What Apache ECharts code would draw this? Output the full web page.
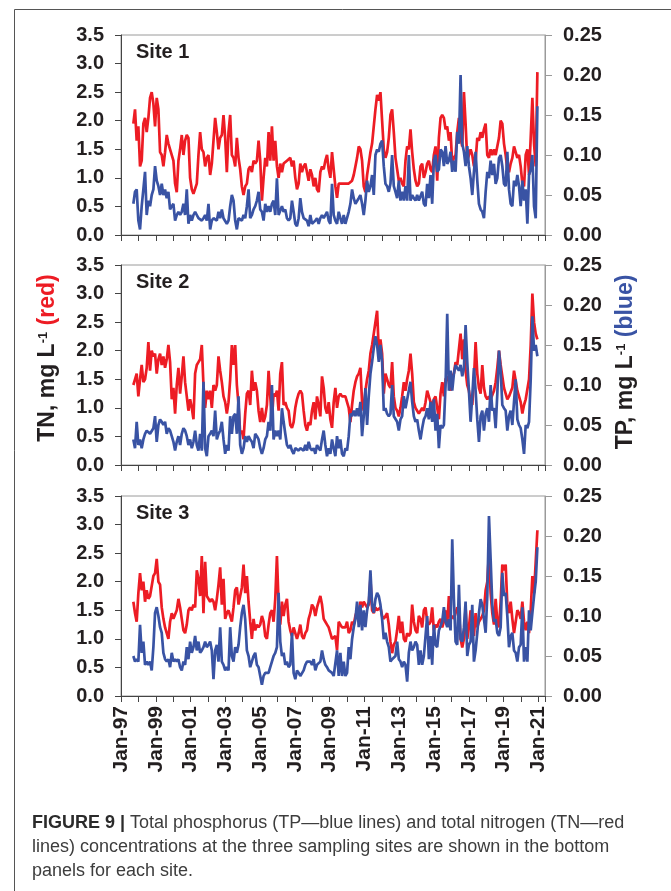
<!DOCTYPE html>
<html>
<head>
<meta charset="utf-8">
<script src="https://cdn.jsdelivr.net/npm/echarts@6/dist/echarts.min.js"></script>
<style>
html,body{margin:0;padding:0;background:#fff;}
#chart{width:671px;height:891px;}
</style>
</head>
<body>
<div id="chart"></div>
<script>
// sampling grid (decimal years): first sample and spacing
const T0 = 1997.71;
const STEP = 0.096;

const siteNames = ['Site 1', 'Site 2', 'Site 3'];

// TN, mg/L (red)
const tnSite1 = [1.95,2.2,1.65,1.9,1.2,1.3,1.95,2.05,1.8,2.05,
2.4,2.5,2.3,1.9,2.4,2.2,1.45,1.4,1.2,1.45,
1.75,1.6,1.5,1.5,1.3,0.9,0.75,1.3,1.5,1.75,
1.4,1.65,1.75,1.7,1.0,0.8,0.72,0.7,0.9,1.4,
1.8,1.5,1.45,1.2,1.35,1.4,1.05,1.25,1.65,2.05,
1.8,1.5,1.7,1.75,2.1,1.7,1.1,1.8,2.1,1.4,
1.35,1.2,1.7,1.35,1.15,0.85,0.7,0.85,0.9,1.15,
1.2,1.1,1.3,1.25,1.3,1.65,1.3,0.6,1.0,1.35,
1.2,1.8,1.3,1.9,1.3,1.65,1.2,1.0,1.25,1.1,
1.25,1.25,1.3,1.3,1.35,1.2,1.3,1.0,0.8,0.9,
1.25,1.1,1.2,1.25,1.1,0.95,1.15,1.05,0.85,1.0,
0.8,0.75,1.1,1.2,1.15,1.3,1.4,1.15,1.0,1.45,
1.15,0.85,0.65,0.9,0.9,0.9,0.9,0.9,0.9,0.9,
0.9,0.95,1.05,1.2,1.35,1.55,1.5,1.3,0.85,0.75,
1.05,1.25,1.45,1.6,1.9,2.2,2.45,2.35,2.5,2.0,
1.5,1.35,1.45,1.7,2.1,2.2,1.8,1.35,1.15,0.95,
1.0,0.9,0.85,1.3,1.55,1.5,1.85,1.45,1.15,0.95,
0.85,0.9,1.2,1.25,1.0,1.1,1.25,1.3,1.15,1.1,
1.4,1.55,0.95,1.7,2.05,2.1,2.05,1.85,1.9,1.65,
1.8,1.25,1.35,1.4,1.8,2.05,1.7,1.55,2.5,1.95,
1.3,1.3,1.5,1.4,1.2,1.3,1.7,1.65,1.8,1.7,
1.85,1.95,1.4,1.35,1.5,1.4,1.5,1.4,1.4,1.7,
2.0,1.95,1.6,1.4,1.15,1.1,1.25,1.35,1.55,1.45,
1.35,1.4,1.2,0.9,0.85,1.4,1.5,1.05,1.7,2.4,
1.6,1.2,2.85];

const tnSite2 = [1.4,1.5,1.6,1.2,1.5,1.75,1.45,1.5,1.7,2.15,
1.65,2.0,1.9,1.95,1.6,1.85,1.95,1.75,1.9,1.7,
1.85,2.1,1.8,1.15,1.35,0.9,1.4,1.7,1.25,1.55,
1.9,1.45,1.45,0.95,1.15,1.0,0.8,1.6,1.75,1.8,
1.85,2.1,1.4,1.0,1.3,1.15,1.3,1.0,1.4,1.3,
1.4,1.9,1.65,1.45,1.2,1.1,0.9,1.1,1.5,2.1,
1.75,2.1,1.4,1.05,0.55,0.6,0.45,0.9,1.25,1.3,
1.05,1.65,1.3,1.45,1.3,0.95,0.75,1.0,0.75,0.85,
1.05,1.65,1.2,0.8,1.25,1.2,1.3,0.95,1.6,1.8,
1.05,1.1,1.0,0.95,0.7,0.65,0.75,1.0,1.15,1.25,
1.3,1.25,0.95,0.7,0.6,0.75,0.7,0.95,1.1,0.8,
1.2,1.05,0.85,1.55,1.35,1.0,0.9,1.1,0.8,0.65,
1.1,1.35,1.0,1.2,1.25,1.2,1.2,1.2,1.2,1.0,
0.75,1.05,1.3,1.45,1.55,1.6,1.7,1.1,0.95,1.3,
1.5,1.65,1.95,2.1,2.3,2.3,2.7,2.0,2.2,1.95,
1.25,1.6,1.5,1.4,1.35,1.8,1.2,1.0,0.95,0.85,
1.0,1.2,1.45,1.3,1.5,1.65,1.95,1.6,1.1,1.0,
0.95,0.9,0.9,1.0,0.95,1.1,1.3,1.2,1.1,1.05,
1.15,1.2,1.0,0.8,1.25,1.45,1.2,1.5,1.55,1.45,
1.3,1.55,1.6,1.8,1.75,1.75,2.3,1.85,2.2,1.65,
1.4,1.3,1.1,1.05,1.5,2.15,1.6,1.35,1.25,1.75,
1.35,1.2,1.15,1.2,1.15,1.15,1.3,1.45,1.7,2.0,
1.75,1.55,1.35,1.25,1.15,1.2,1.2,1.35,1.65,1.65,
1.3,1.3,1.1,0.9,1.05,1.15,1.15,1.5,2.1,3.0,
2.5,2.3,2.2];

const tnSite3 = [1.65,1.45,1.3,1.8,2.15,1.85,2.0,1.65,1.85,1.7,
1.75,1.75,2.1,2.15,2.4,2.0,1.95,1.55,1.35,1.2,
1.1,1.0,1.3,1.45,1.35,1.35,1.5,1.7,1.55,1.35,
1.15,1.1,1.25,1.5,1.55,1.5,1.6,1.55,2.2,2.05,
1.75,2.45,1.45,2.35,1.75,1.75,1.65,1.7,1.65,1.5,
1.7,1.95,2.25,1.6,2.05,1.35,1.45,1.5,1.4,1.3,
1.55,1.85,1.9,1.6,1.75,1.9,2.3,1.8,2.1,1.65,
1.3,1.0,1.35,1.15,1.25,1.2,1.25,1.4,1.3,1.05,
1.0,1.25,1.45,1.5,1.3,1.7,2.45,1.6,1.25,1.65,
1.4,1.6,1.7,1.3,1.15,1.05,1.2,1.1,1.0,1.1,
1.25,1.05,1.0,1.1,1.15,1.35,1.45,1.6,1.55,1.4,
1.55,1.55,1.75,1.6,1.35,1.3,1.25,1.2,1.2,1.0,
1.0,1.05,0.8,1.3,1.25,1.2,1.2,1.2,1.3,1.1,
1.15,1.3,1.25,1.4,1.5,1.45,1.65,1.55,1.65,1.6,
1.55,1.6,2.05,1.5,1.45,1.55,1.5,1.5,1.55,1.4,
1.35,1.35,1.45,1.25,0.95,0.75,0.9,0.95,1.15,1.4,
1.1,1.3,1.0,0.95,1.1,1.05,1.1,1.6,1.3,1.15,
1.1,1.4,1.35,1.2,1.5,1.55,1.3,1.25,1.3,1.55,
1.15,1.25,1.2,1.3,1.35,1.2,1.3,1.5,1.25,1.75,
1.35,1.4,1.35,1.45,1.55,1.5,1.0,0.85,1.0,1.55,
1.0,1.2,1.5,1.3,1.05,1.45,1.2,1.3,1.3,1.4,
1.5,1.85,2.0,2.5,1.8,1.45,1.25,1.7,1.3,1.2,
1.65,2.3,2.2,2.3,1.6,1.45,1.65,1.35,1.1,1.3,
1.5,1.45,1.35,1.65,1.3,1.15,1.3,1.1,1.5,2.1,
1.8,2.35,2.9];

// TP, mg/L (blue)
const tpSite1 = [0.039,0.054,0.057,0.018,0.007,0.036,0.057,0.079,0.025,0.043,
0.036,0.05,0.057,0.086,0.068,0.061,0.05,0.064,0.05,0.057,
0.046,0.054,0.032,0.036,0.039,0.018,0.025,0.029,0.025,0.029,
0.039,0.025,0.057,0.014,0.025,0.018,0.025,0.029,0.025,0.021,
0.021,0.018,0.021,0.025,0.018,0.039,0.007,0.018,0.021,0.021,
0.018,0.029,0.021,0.032,0.021,0.021,0.014,0.018,0.036,0.05,
0.043,0.018,0.007,0.021,0.021,0.018,0.025,0.021,0.036,0.057,
0.021,0.025,0.032,0.036,0.043,0.054,0.032,0.029,0.018,0.039,
0.029,0.036,0.029,0.039,0.043,0.025,0.071,0.025,0.025,0.036,
0.029,0.032,0.021,0.018,0.021,0.043,0.029,0.014,0.011,0.021,
0.046,0.029,0.021,0.021,0.018,0.011,0.025,0.014,0.014,0.018,
0.021,0.014,0.021,0.025,0.021,0.025,0.029,0.018,0.014,0.064,
0.025,0.018,0.014,0.029,0.021,0.014,0.025,0.014,0.014,0.029,
0.039,0.057,0.046,0.039,0.039,0.046,0.05,0.039,0.025,0.043,
0.068,0.054,0.061,0.075,0.05,0.1,0.107,0.104,0.114,0.118,
0.086,0.064,0.061,0.054,0.064,0.1,0.061,0.054,0.046,0.068,
0.043,0.054,0.043,0.061,0.043,0.1,0.043,0.05,0.046,0.043,
0.05,0.043,0.043,0.054,0.039,0.036,0.064,0.046,0.075,0.039,
0.093,0.1,0.079,0.082,0.107,0.104,0.086,0.111,0.089,0.093,
0.104,0.079,0.093,0.079,0.129,0.114,0.2,0.114,0.104,0.086,
0.111,0.086,0.071,0.05,0.079,0.104,0.068,0.039,0.032,0.029,
0.021,0.054,0.079,0.071,0.093,0.075,0.089,0.064,0.071,0.096,
0.1,0.086,0.064,0.061,0.104,0.057,0.039,0.036,0.068,0.061,
0.075,0.061,0.036,0.068,0.043,0.057,0.014,0.075,0.082,0.1,
0.036,0.021,0.161];

const tpSite2 = [0.032,0.021,0.054,0.025,0.032,0.021,0.032,0.039,0.043,0.043,
0.039,0.039,0.046,0.061,0.029,0.05,0.057,0.054,0.05,0.054,
0.039,0.046,0.043,0.036,0.029,0.018,0.029,0.036,0.025,0.039,
0.046,0.043,0.036,0.025,0.032,0.021,
0.029,0.043,0.025,0.018,0.039,0.018,0.104,0.021,0.011,0.036,
0.039,0.043,0.036,0.068,0.032,0.039,0.043,0.054,0.032,0.014,
0.025,0.018,0.061,0.039,0.061,0.064,0.039,0.086,0.025,0.014,
0.021,0.036,0.029,0.036,0.032,0.029,0.021,0.039,0.036,0.032,
0.021,0.014,0.021,0.032,0.036,0.054,0.043,0.1,0.032,0.043,
0.036,0.043,0.032,0.071,0.054,0.039,0.025,0.021,0.025,0.018,
0.014,0.021,0.021,0.018,0.021,0.021,0.018,0.025,0.018,0.029,
0.021,0.018,0.021,0.014,0.025,0.021,0.018,0.032,0.043,0.025,
0.011,0.021,0.014,0.032,
0.021,0.011,0.036,0.021,0.032,0.014,0.011,0.021,0.018,0.036,
0.064,0.061,0.068,0.061,0.071,0.061,0.079,0.036,0.061,0.096,
0.05,0.086,0.114,0.129,0.146,0.161,0.15,0.129,0.15,0.129,
0.068,0.071,0.064,0.061,0.064,0.1,0.061,0.061,0.054,0.043,
0.057,0.061,0.086,0.071,0.082,0.093,0.104,0.079,0.061,0.054,
0.057,0.043,0.032,0.046,0.057,0.061,0.071,0.057,0.079,0.054,
0.082,0.043,0.064,0.021,0.05,0.046,0.05,0.1,0.189,0.093,
0.118,0.093,0.114,0.125,0.121,0.118,0.125,0.111,0.121,0.175,
0.129,0.093,0.054,0.086,0.121,0.093,0.057,0.029,0.061,0.068,
0.043,0.064,0.071,0.054,0.1,0.068,0.071,0.046,0.089,0.143,
0.118,0.075,0.071,0.068,0.043,0.061,0.068,0.05,0.079,0.107,
0.057,0.05,0.046,0.032,0.014,0.05,0.046,0.054,0.107,0.186,
0.143,0.15,0.136];

const tpSite3 = [0.05,0.043,0.046,0.043,0.089,0.054,0.068,0.039,0.043,0.039,
0.043,0.032,0.061,0.104,0.111,0.1,0.086,0.079,0.054,0.046,
0.043,0.046,0.036,0.054,0.043,0.046,0.043,0.046,0.036,0.032,
0.043,0.039,0.061,0.046,0.068,0.054,0.061,0.075,0.057,0.068,
0.054,0.057,0.061,0.068,0.061,0.064,0.068,0.057,0.021,0.057,
0.064,0.043,0.086,0.043,0.039,0.032,0.036,0.032,0.086,0.05,
0.043,0.061,0.054,0.064,0.086,0.104,0.114,0.096,0.057,0.05,
0.036,0.043,0.05,0.054,0.039,0.036,0.025,0.014,0.025,0.029,
0.029,0.029,0.036,0.043,0.05,0.054,0.061,0.129,0.068,0.05,
0.054,0.039,0.043,0.036,0.039,0.079,0.029,0.021,0.032,0.029,
0.025,0.025,0.032,0.039,0.043,0.043,0.043,0.039,0.046,0.032,
0.039,0.039,0.043,0.057,0.046,0.039,0.036,0.032,0.032,0.029,
0.025,0.025,0.057,0.025,0.054,0.025,0.043,0.025,0.029,0.061,
0.046,0.071,0.086,0.096,0.118,0.086,0.114,0.082,0.107,0.086,
0.107,0.118,0.157,0.114,0.104,0.121,0.129,0.125,0.114,0.096,
0.071,0.079,0.068,0.061,0.043,0.046,0.046,0.05,0.068,0.046,
0.043,0.036,0.043,0.039,0.018,0.054,0.068,0.057,0.061,0.068,
0.064,0.039,0.057,0.039,0.05,0.075,0.1,0.046,0.075,0.039,
0.089,0.064,0.061,0.082,0.082,0.093,0.111,0.093,0.086,0.096,
0.082,0.196,0.121,0.068,0.064,0.139,0.071,0.068,0.086,0.118,
0.05,0.064,0.068,0.114,0.043,0.057,0.079,0.104,0.121,0.114,
0.096,0.079,0.125,0.225,0.171,0.114,0.093,0.096,0.079,0.075,
0.086,0.154,0.125,0.129,0.1,0.061,0.075,0.079,0.057,0.054,
0.043,0.061,0.064,0.111,0.043,0.061,0.043,0.107,0.082,0.104,
0.125,0.143,0.186];

const tnSeries = [tnSite1, tnSite2, tnSite3];
const tpSeries = [tpSite1, tpSite2, tpSite3];

const tnTicks = {min: 0, max: 3.5, interval: 0.5};
const tpTicks = {min: 0, max: 0.25, interval: 0.05};
const xRange = {min: 1997, max: 2021.38, interval: 1};

const RED = '#ed1c24';
const BLUE = '#3953a4';
const FONT = '"Liberation Sans", Arial, Helvetica, sans-serif';
const INK = '#231f20';

const gridTops = [35, 265, 496];
const grids = gridTops.map(t => ({
  left: 121, right: 126, top: t, height: 200,
  show: true, borderColor: '#9a9a9a', borderWidth: 1, backgroundColor: 'transparent'
}));

function yearLabel(v) {
  const r = Math.round(v);
  if (Math.abs(v - r) > 1e-6) return '';
  if (r % 2 !== 1) return '';
  return 'Jan-' + String(r % 100).padStart(2, '0');
}

const xAxes = grids.map((g, i) => ({
  gridIndex: i, type: 'value', min: xRange.min, max: xRange.max, interval: xRange.interval,
  axisLine: {show: true, lineStyle: {color: '#444', width: 1}},
  axisTick: {show: true, length: 6, lineStyle: {color: '#444', width: 1}},
  splitLine: {show: false},
  axisLabel: {
    show: i === 2, rotate: 90, margin: 10, formatter: yearLabel,
    fontFamily: FONT, fontWeight: 'bold', fontSize: 21, color: INK,
    showMinLabel: true, showMaxLabel: true
  }
}));

const yAxes = [];
grids.forEach((g, i) => {
  yAxes.push({
    gridIndex: i, type: 'value', position: 'left',
    min: tnTicks.min, max: tnTicks.max, interval: tnTicks.interval,
    axisLine: {show: true, lineStyle: {color: '#444', width: 1}},
    axisTick: {show: true, length: 6, lineStyle: {color: '#444'}},
    splitLine: {show: false},
    axisLabel: {margin: 17, formatter: v => v.toFixed(1), fontFamily: FONT, fontWeight: 'bold', fontSize: 20, color: INK}
  });
  yAxes.push({
    gridIndex: i, type: 'value', position: 'right',
    min: tpTicks.min, max: tpTicks.max, interval: tpTicks.interval,
    axisLine: {show: true, lineStyle: {color: '#9a9a9a', width: 1}},
    axisTick: {show: true, length: 7, lineStyle: {color: '#9a9a9a'}},
    splitLine: {show: false},
    axisLabel: {margin: 18, formatter: v => v.toFixed(2), fontFamily: FONT, fontWeight: 'bold', fontSize: 20, color: INK}
  });
});

const sampleTimes = tnSite1.map((_, k) => T0 + k * STEP);

const series = [];
grids.forEach((g, i) => {
  series.push({
    type: 'line', xAxisIndex: i, yAxisIndex: 2 * i,
    data: tnSeries[i].map((v, k) => [sampleTimes[k], v]),
    showSymbol: false, symbol: 'none', lineStyle: {color: RED, width: 2.7}, z: 2
  });
  series.push({
    type: 'line', xAxisIndex: i, yAxisIndex: 2 * i + 1,
    data: tpSeries[i].map((v, k) => [sampleTimes[k], v]),
    showSymbol: false, symbol: 'none', lineStyle: {color: BLUE, width: 2.7}, z: 3
  });
});

const graphics = [
  // figure frame
  {type: 'line', shape: {x1: 14.5, y1: 9.5, x2: 671, y2: 9.5}, style: {stroke: '#555', lineWidth: 1}},
  {type: 'line', shape: {x1: 14.5, y1: 9.5, x2: 14.5, y2: 891}, style: {stroke: '#555', lineWidth: 1}}
];
siteNames.forEach((name, i) => {
  graphics.push({
    type: 'text', x: 136, y: gridTops[i] + 17,
    style: {text: name, fontFamily: FONT, fontWeight: 'bold', fontSize: 20, fill: INK, align: 'left', verticalAlign: 'middle'}
  });
});
const richTitle = {
  a: {fontFamily: FONT, fontWeight: 'bold', fontSize: 23, fill: INK, color: INK},
  s: {fontFamily: FONT, fontWeight: 'bold', fontSize: 13, fill: INK, color: INK, verticalAlign: 'top', padding: [0, 0, 10, 0]},
  r: {fontFamily: FONT, fontWeight: 'bold', fontSize: 23, fill: RED, color: RED},
  b: {fontFamily: FONT, fontWeight: 'bold', fontSize: 23, fill: BLUE, color: BLUE}
};
graphics.push({
  type: 'text', x: 48, y: 358, rotation: Math.PI / 2,
  style: {text: '{a|TN, mg L}{s|-1}{r| (red)}', rich: richTitle, align: 'center', verticalAlign: 'middle'}
});
graphics.push({
  type: 'text', x: 626, y: 362, rotation: Math.PI / 2,
  style: {text: '{a|TP, mg L}{s|-1}{b| (blue)}', rich: richTitle, align: 'center', verticalAlign: 'middle'}
});
const captionRich = {
  h: {fontFamily: FONT, fontWeight: 'bold', fontSize: 18, fill: '#2b2b2b'},
  t: {fontFamily: FONT, fontSize: 18, fill: '#3d3d3d'}
};
const captionLines = [
  '{h|FIGURE 9 |}{t| Total phosphorus (TP\u2014blue lines) and total nitrogen (TN\u2014red}',
  '{t|lines) concentrations at the three sampling sites are shown in the bottom}',
  '{t|panels for each site.}'
];
const captionY = [823, 847, 871];
captionLines.forEach((txt, i) => {
  graphics.push({
    type: 'text', x: 32, y: captionY[i],
    style: {text: txt, rich: captionRich, align: 'left', verticalAlign: 'middle'}
  });
});

const chart = echarts.init(document.getElementById('chart'), null, {renderer: 'canvas'});
chart.setOption({
  animation: false,
  backgroundColor: '#fff',
  grid: grids,
  xAxis: xAxes,
  yAxis: yAxes,
  series: series,
  graphic: graphics
});
</script>
</body>
</html>
